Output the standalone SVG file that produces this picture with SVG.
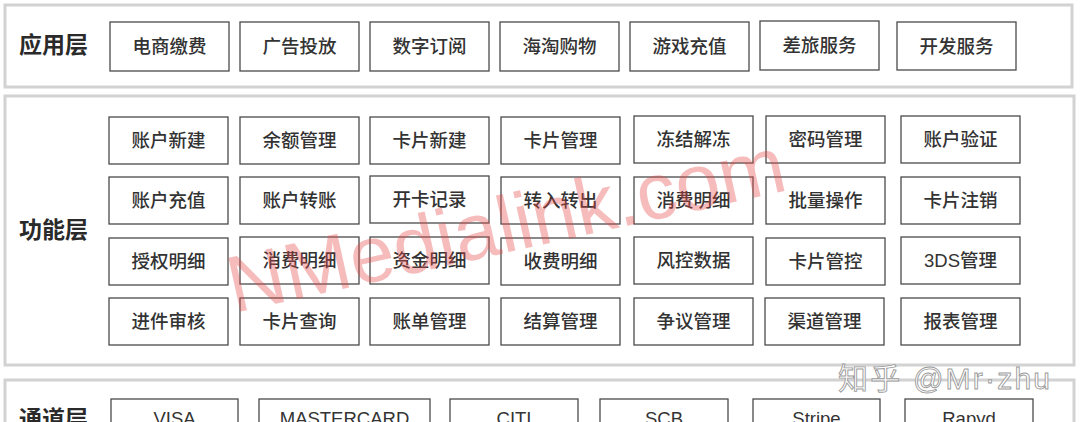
<svg xmlns="http://www.w3.org/2000/svg" width="1080" height="422" viewBox="0 0 1080 422">
<style>
.layer{fill:#ffffff;stroke:#d2d2d2;stroke-width:3}
.box{fill:#ffffff;stroke:#4a4a4a;stroke-width:1.3}
.t{font-family:"Liberation Sans","Noto Sans CJK SC",sans-serif;font-size:18.5px;font-weight:500;fill:#333333;text-anchor:middle}
.lbl{font-family:"Noto Sans CJK SC",sans-serif;font-size:23px;font-weight:600;fill:#2a2a2a}
.wm{font-family:"Liberation Sans",sans-serif;font-size:80px;fill:#e84848;opacity:0.36}
.wm2{font-family:"Liberation Sans","Noto Sans CJK SC",sans-serif;font-size:30px;fill:#ffffff;stroke:#9a9a9a;stroke-width:0.9}
</style>
<rect width="1080" height="422" fill="#ffffff"/>
<g id="layer-app">
<rect class="layer" x="5" y="5" width="1067" height="82"/>
<text class="lbl" x="19" y="53">应用层</text>
</g>
<g id="layer-func">
<rect class="layer" x="5" y="96" width="1069" height="269"/>
<text class="lbl" x="19" y="238">功能层</text>
</g>
<g id="layer-channel">
<rect class="layer" x="5" y="380" width="1069" height="70"/>
<text class="lbl" x="19" y="427">通道层</text>
</g>
<g id="connectors"/>
<g id="app-nodes">
<g id="a1"><rect class="box" x="110" y="22" width="119" height="49"/><text class="t" x="169.5" y="53">电商缴费</text></g>
<g id="a2"><rect class="box" x="240" y="22" width="119" height="49"/><text class="t" x="299.5" y="53">广告投放</text></g>
<g id="a3"><rect class="box" x="370" y="22" width="119" height="49"/><text class="t" x="429.5" y="53">数字订阅</text></g>
<g id="a4"><rect class="box" x="500" y="22" width="119" height="49"/><text class="t" x="559.5" y="53">海淘购物</text></g>
<g id="a5"><rect class="box" x="630" y="22" width="119" height="49"/><text class="t" x="689.5" y="53">游戏充值</text></g>
<g id="a6"><rect class="box" x="760" y="21" width="119" height="49"/><text class="t" x="819.5" y="52">差旅服务</text></g>
<g id="a7"><rect class="box" x="897" y="22" width="119" height="48"/><text class="t" x="956.5" y="52.5">开发服务</text></g>
</g>
<g id="func-nodes">
<g id="f11"><rect class="box" x="109" y="117" width="119" height="47"/><text class="t" x="168.5" y="147">账户新建</text></g>
<g id="f12"><rect class="box" x="240" y="117" width="119" height="47"/><text class="t" x="299.5" y="147">余额管理</text></g>
<g id="f13"><rect class="box" x="370" y="117" width="119" height="47"/><text class="t" x="429.5" y="147">卡片新建</text></g>
<g id="f14"><rect class="box" x="501" y="117" width="119" height="47"/><text class="t" x="560.5" y="147">卡片管理</text></g>
<g id="f15"><rect class="box" x="634" y="116" width="119" height="47"/><text class="t" x="693.5" y="146">冻结解冻</text></g>
<g id="f16"><rect class="box" x="766" y="116" width="119" height="47"/><text class="t" x="825.5" y="146">密码管理</text></g>
<g id="f17"><rect class="box" x="901" y="116" width="119" height="47"/><text class="t" x="960.5" y="146">账户验证</text></g>

<g id="f21"><rect class="box" x="109" y="177" width="119" height="47"/><text class="t" x="168.5" y="207">账户充值</text></g>
<g id="f22"><rect class="box" x="240" y="177" width="119" height="47"/><text class="t" x="299.5" y="207">账户转账</text></g>
<g id="f23"><rect class="box" x="370" y="176" width="119" height="47"/><text class="t" x="429.5" y="206">开卡记录</text></g>
<g id="f24"><rect class="box" x="501" y="177" width="119" height="47"/><text class="t" x="560.5" y="207">转入转出</text></g>
<g id="f25"><rect class="box" x="634" y="177" width="119" height="47"/><text class="t" x="693.5" y="207">消费明细</text></g>
<g id="f26"><rect class="box" x="766" y="177" width="119" height="47"/><text class="t" x="825.5" y="207">批量操作</text></g>
<g id="f27"><rect class="box" x="901" y="177" width="119" height="47"/><text class="t" x="960.5" y="207">卡片注销</text></g>

<g id="f31"><rect class="box" x="109" y="238" width="119" height="47"/><text class="t" x="168.5" y="268">授权明细</text></g>
<g id="f32"><rect class="box" x="240" y="237" width="119" height="47"/><text class="t" x="299.5" y="267">消费明细</text></g>
<g id="f33"><rect class="box" x="370" y="237" width="119" height="47"/><text class="t" x="429.5" y="267">资金明细</text></g>
<g id="f34"><rect class="box" x="501" y="238" width="119" height="47"/><text class="t" x="560.5" y="268">收费明细</text></g>
<g id="f35"><rect class="box" x="634" y="237" width="119" height="47"/><text class="t" x="693.5" y="267">风控数据</text></g>
<g id="f36"><rect class="box" x="766" y="238" width="119" height="47"/><text class="t" x="825.5" y="268">卡片管控</text></g>
<g id="f37"><rect class="box" x="901" y="237" width="119" height="47"/><text class="t" x="960.5" y="267">3DS管理</text></g>

<g id="f41"><rect class="box" x="109" y="298" width="119" height="47"/><text class="t" x="168.5" y="328">进件审核</text></g>
<g id="f42"><rect class="box" x="240" y="298" width="119" height="47"/><text class="t" x="299.5" y="328">卡片查询</text></g>
<g id="f43"><rect class="box" x="370" y="298" width="119" height="47"/><text class="t" x="429.5" y="328">账单管理</text></g>
<g id="f44"><rect class="box" x="501" y="298" width="119" height="47"/><text class="t" x="560.5" y="328">结算管理</text></g>
<g id="f45"><rect class="box" x="634" y="298" width="119" height="47"/><text class="t" x="693.5" y="328">争议管理</text></g>
<g id="f46"><rect class="box" x="765" y="298" width="119" height="47"/><text class="t" x="824.5" y="328">渠道管理</text></g>
<g id="f47"><rect class="box" x="901" y="298" width="119" height="47"/><text class="t" x="960.5" y="328">报表管理</text></g>
</g>
<g id="channel-nodes">
<g id="c1"><rect class="box" x="111" y="399" width="127" height="48"/><text class="t" x="174.5" y="425">VISA</text></g>
<g id="c2"><rect class="box" x="259" y="399" width="171" height="48"/><text class="t" x="344.5" y="425">MASTERCARD</text></g>
<g id="c3"><rect class="box" x="450" y="399" width="128" height="48"/><text class="t" x="514" y="425">CITI</text></g>
<g id="c4"><rect class="box" x="600" y="399" width="128" height="48"/><text class="t" x="664" y="425">SCB</text></g>
<g id="c5"><rect class="box" x="753" y="399" width="127" height="48"/><text class="t" x="816.5" y="425">Stripe</text></g>
<g id="c6"><rect class="box" x="905" y="399" width="128" height="48"/><text class="t" x="969" y="425">Rapyd</text></g>
</g>
<g id="watermarks">
<text class="wm" transform="translate(234 313) rotate(-12.5)">NMedialink.com</text>
<text class="wm2" x="838" y="389" textLength="212" lengthAdjust="spacing">知乎 @Mr·zhu</text>
</g>
</svg>
